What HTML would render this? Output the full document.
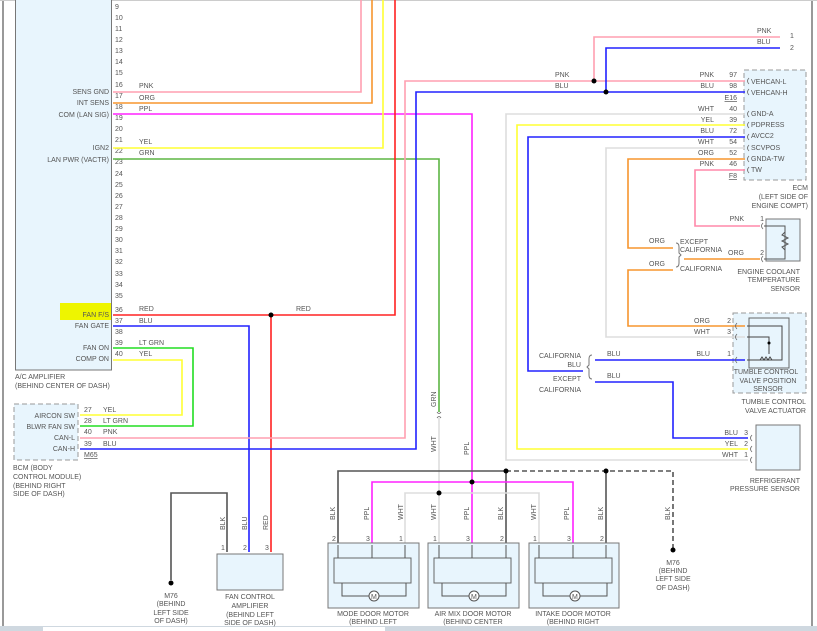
<!DOCTYPE html>
<html><head><meta charset="utf-8"><style>
html,body{margin:0;padding:0;background:#fff;width:817px;height:631px;overflow:hidden}
svg{display:block}
text{font-family:"Liberation Sans",sans-serif;font-size:7px;fill:#555}
</style></head><body>
<svg width="817" height="631" viewBox="0 0 817 631" xmlns="http://www.w3.org/2000/svg">
<line x1="3" y1="0" x2="3" y2="626" stroke="#333" stroke-width="1"/>
<line x1="812" y1="0" x2="812" y2="626" stroke="#333" stroke-width="1"/>
<rect x="0" y="626" width="817" height="5" fill="#cfd8e0"/>
<rect x="43" y="627" width="342" height="4" fill="#fff"/>
<rect x="0" y="0" width="817" height="1" fill="#ccc"/>

<!-- boxes first -->
<rect x="15.5" y="-2" width="96" height="372" fill="#e8f5fd" stroke="#777"/>
<rect x="60" y="303" width="51" height="17" fill="#eef500"/>
<rect x="14" y="404" width="64" height="56" fill="#e8f5fd" stroke="#999" stroke-dasharray="5,3"/>
<rect x="744" y="70" width="62" height="110" fill="#e8f5fd" stroke="#999" stroke-dasharray="5,3"/>
<rect x="766" y="219" width="34" height="42" fill="#e8f5fd" stroke="#777"/>
<rect x="733" y="313" width="73" height="80" fill="#e8f5fd" stroke="#999" stroke-dasharray="5,3"/>
<rect x="756" y="425" width="44" height="45" fill="#e8f5fd" stroke="#777"/>

<g font-size="7">
<text x="115" y="9">9</text><text x="115" y="20">10</text><text x="115" y="31">11</text><text x="115" y="42">12</text><text x="115" y="53">13</text><text x="115" y="64">14</text><text x="115" y="75">15</text><text x="115" y="87">16</text><text x="115" y="98">17</text><text x="115" y="109">18</text><text x="115" y="120">19</text><text x="115" y="131">20</text><text x="115" y="142">21</text><text x="115" y="153">22</text><text x="115" y="164">23</text><text x="115" y="176">24</text><text x="115" y="187">25</text><text x="115" y="198">26</text><text x="115" y="209">27</text><text x="115" y="220">28</text><text x="115" y="231">29</text><text x="115" y="242">30</text><text x="115" y="253">31</text><text x="115" y="264">32</text><text x="115" y="276">33</text><text x="115" y="287">34</text><text x="115" y="298">35</text><text x="115" y="312">36</text><text x="115" y="323">37</text><text x="115" y="334">38</text><text x="115" y="345">39</text><text x="115" y="356">40</text>
</g>
<g text-anchor="end">
<text x="109" y="94">SENS GND</text><text x="109" y="105">INT SENS</text><text x="109" y="117">COM (LAN SIG)</text><text x="109" y="150">IGN2</text><text x="109" y="162">LAN PWR (VACTR)</text><text x="109" y="317">FAN F/S</text><text x="109" y="328">FAN GATE</text><text x="109" y="350">FAN ON</text><text x="109" y="361">COMP ON</text>
</g>
<text x="15" y="379">A/C AMPLIFIER</text><text x="15" y="388">(BEHIND CENTER OF DASH)</text>
<text x="139" y="88">PNK</text><text x="139" y="100">ORG</text><text x="139" y="111">PPL</text><text x="139" y="144">YEL</text><text x="139" y="155">GRN</text><text x="139" y="311">RED</text><text x="296" y="311">RED</text><text x="139" y="323">BLU</text><text x="139" y="345">LT GRN</text><text x="139" y="356">YEL</text>

<g text-anchor="end"><text x="75" y="418">AIRCON SW</text><text x="75" y="429">BLWR FAN SW</text><text x="75" y="440">CAN-L</text><text x="75" y="451">CAN-H</text></g>
<text x="84" y="412">27</text><text x="84" y="423">28</text><text x="84" y="434">40</text><text x="84" y="446">39</text><text x="84" y="457" text-decoration="underline">M65</text>
<text x="103" y="412">YEL</text><text x="103" y="423">LT GRN</text><text x="103" y="434">PNK</text><text x="103" y="446">BLU</text>
<text x="13" y="470">BCM (BODY</text><text x="13" y="479">CONTROL MODULE)</text><text x="13" y="488">(BEHIND RIGHT</text><text x="13" y="496">SIDE OF DASH)</text>

<g fill="none" stroke-width="1.6">
<polyline points="113,92 361,92 361,0" stroke="#ff9fb0"/>
<polyline points="113,103 372,103 372,0" stroke="#f7952e"/>
<polyline points="113,114 472,114 472,543" stroke="#ff22ff"/>
<polyline points="113,148 383,148 383,0" stroke="#ffff33"/>
<polyline points="113,159 439,159 439,412" stroke="#5db544"/>
<polyline points="439,418 439,543" stroke="#ddd"/>
<polyline points="113,315 395,315 395,0" stroke="#f22"/>
<polyline points="271,315 271,552" stroke="#f22"/>
<polyline points="113,326 249,326 249,552" stroke="#22f"/>
<polyline points="113,348 193,348 193,426 80,426" stroke="#2d2"/>
<polyline points="113,360 182,360 182,415 80,415" stroke="#ff3"/>
<polyline points="80,438 405,438 405,81 745,81" stroke="#ff9fb0"/>
<polyline points="594,81 594,37 780,37" stroke="#ff9fb0"/>
<polyline points="80,449 416,449 416,92 745,92" stroke="#22f"/>
<polyline points="606,92 606,48 780,48" stroke="#22f"/>
<polyline points="745,114 506,114 506,460 748,460" stroke="#ddd"/>
<polyline points="745,125 517,125 517,449 748,449" stroke="#ff3"/>
<polyline points="745,137 528,137 528,371 583,371" stroke="#22f"/>
<polyline points="595,360 745,360" stroke="#22f"/>
<polyline points="595,382 673,382 673,438 748,438" stroke="#22f"/>
<polyline points="745,148 606,148 606,337 745,337" stroke="#ddd"/>
<polyline points="745,159 628,159 628,248 673,248" stroke="#f7952e"/>
<polyline points="673,270 628,270 628,326 745,326" stroke="#f7952e"/>
<polyline points="684,259 760,259" stroke="#f7952e"/>
<polyline points="745,170 695,170 695,226 760,226" stroke="#ff88aa"/>
<polyline points="338,543 338,471 506,471" stroke="#555"/>
<polyline points="506,471 673,471 673,548" stroke="#555" stroke-dasharray="5,3"/>
<polyline points="506,471 506,543" stroke="#555"/>
<polyline points="606,471 606,543" stroke="#555"/>
<polyline points="372,543 372,482 573,482 573,543" stroke="#ff22ff"/>
<polyline points="405,543 405,493 539,493 539,543" stroke="#ddd"/>
<polyline points="227,552 227,493 171,493 171,580" stroke="#555"/>
</g>
<g fill="#000">
<circle cx="271" cy="315" r="2.5"/><circle cx="594" cy="81" r="2.5"/><circle cx="606" cy="92" r="2.5"/>
<circle cx="506" cy="471" r="2.5"/><circle cx="606" cy="471" r="2.5"/><circle cx="472" cy="482" r="2.5"/><circle cx="439" cy="493" r="2.5"/>
<circle cx="171" cy="583" r="2.5"/><circle cx="673" cy="550" r="2.5"/>
</g>
<text x="555" y="77">PNK</text><text x="555" y="88">BLU</text>
<text x="757" y="33">PNK</text><text x="757" y="44">BLU</text><text x="790" y="38">1</text><text x="790" y="50">2</text>

<g><text x="751" y="84">VEHCAN-L</text><text x="751" y="95">VEHCAN-H</text><text x="751" y="116">GND-A</text><text x="751" y="127">PDPRESS</text><text x="751" y="138">AVCC2</text><text x="751" y="150">SCVPOS</text><text x="751" y="161">GNDA-TW</text><text x="751" y="172">TW</text></g>
<g text-anchor="end"><text x="737" y="77">97</text><text x="737" y="88">98</text><text x="737" y="100" text-decoration="underline">E16</text><text x="737" y="111">40</text><text x="737" y="122">39</text><text x="737" y="133">72</text><text x="737" y="144">54</text><text x="737" y="155">52</text><text x="737" y="166">46</text><text x="737" y="178" text-decoration="underline">F8</text>
<text x="714" y="77">PNK</text><text x="714" y="88">BLU</text><text x="714" y="111">WHT</text><text x="714" y="122">YEL</text><text x="714" y="133">BLU</text><text x="714" y="144">WHT</text><text x="714" y="155">ORG</text><text x="714" y="166">PNK</text>
<text x="808" y="190">ECM</text><text x="808" y="199">(LEFT SIDE OF</text><text x="808" y="208">ENGINE COMPT)</text>
<text x="744" y="221">PNK</text><text x="764" y="221">1</text><text x="744" y="255">ORG</text><text x="764" y="255">2</text>
<text x="800" y="274">ENGINE COOLANT</text><text x="800" y="282">TEMPERATURE</text><text x="800" y="291">SENSOR</text>
<text x="710" y="323">ORG</text><text x="710" y="334">WHT</text><text x="710" y="356">BLU</text><text x="731" y="323">2</text><text x="731" y="334">3</text><text x="731" y="356">1</text>
<text x="806" y="404">TUMBLE CONTROL</text><text x="806" y="413">VALVE ACTUATOR</text>
<text x="738" y="435">BLU</text><text x="738" y="446">YEL</text><text x="738" y="457">WHT</text><text x="748" y="435">3</text><text x="748" y="446">2</text><text x="748" y="457">1</text>
<text x="800" y="483">REFRIGERANT</text><text x="800" y="491">PRESSURE SENSOR</text>
<text x="665" y="243">ORG</text><text x="665" y="266">ORG</text><text x="581" y="358">CALIFORNIA</text><text x="581" y="367">BLU</text><text x="581" y="381">EXCEPT</text><text x="581" y="392">CALIFORNIA</text>
</g>
<text x="680" y="244">EXCEPT</text><text x="680" y="252">CALIFORNIA</text><text x="680" y="271">CALIFORNIA</text>
<text x="607" y="356">BLU</text><text x="607" y="378">BLU</text>
<path d="M676,243 q3,0 3,4 v6 l2,2 l-2,2 v6 q0,4 -3,4" fill="none" stroke="#777"/>
<path d="M592,355 q-3,0 -3,4 v6 l-2,2 l2,2 v6 q0,4 3,4" fill="none" stroke="#777"/>
<polyline points="764,226 785,226 785,259 764,259" fill="none" stroke="#555"/>
<path d="M785,232 l-3,3 l6,3 l-6,3 l6,3 l-6,3 l3,3" fill="none" stroke="#555"/>
<rect x="749" y="318" width="40" height="50" fill="none" stroke="#666"/>
<polyline points="747,326 782,326 782,360 747,360" fill="none" stroke="#444"/>
<polyline points="747,337 769,337 769,354" fill="none" stroke="#444"/>
<circle cx="769" cy="343" r="1.5" fill="#000"/>
<path d="M760,360 l2,-3 l2,3 l2,-3 l2,3 l2,-3 l2,3" fill="none" stroke="#444"/>
<text x="766" y="374" text-anchor="middle">TUMBLE CONTROL</text><text x="768" y="383" text-anchor="middle">VALVE POSITION</text><text x="768" y="391" text-anchor="middle">SENSOR</text>
<g fill="none" stroke="#666" stroke-width="0.8">
<path d="M749,78 q-3,3 0,6 M749,89 q-3,3 0,6 M749,111 q-3,3 0,6 M749,122 q-3,3 0,6 M749,134 q-3,3 0,6 M749,145 q-3,3 0,6 M749,156 q-3,3 0,6 M749,167 q-3,3 0,6"/>
<path d="M763,223 q-3,3 0,6 M763,256 q-3,3 0,6 M737,323 q-3,3 0,6 M737,334 q-3,3 0,6 M737,357 q-3,3 0,6 M752,435 q-3,3 0,6 M752,446 q-3,3 0,6 M752,457 q-3,3 0,6"/>
<path d="M437,412 q2,3 4,0 M437,418 q2,-3 4,0"/>
</g>
<g>
<text transform="translate(436,407) rotate(-90)">GRN</text>
<text transform="translate(436,452) rotate(-90)">WHT</text>
<text transform="translate(469,455) rotate(-90)">PPL</text>
<text transform="translate(225,530) rotate(-90)">BLK</text>
<text transform="translate(247,530) rotate(-90)">BLU</text>
<text transform="translate(268,530) rotate(-90)">RED</text>
<text transform="translate(335,520) rotate(-90)">BLK</text><text transform="translate(369,520) rotate(-90)">PPL</text><text transform="translate(403,520) rotate(-90)">WHT</text>
<text transform="translate(436,520) rotate(-90)">WHT</text><text transform="translate(469,520) rotate(-90)">PPL</text><text transform="translate(503,520) rotate(-90)">BLK</text>
<text transform="translate(536,520) rotate(-90)">WHT</text><text transform="translate(569,520) rotate(-90)">PPL</text><text transform="translate(603,520) rotate(-90)">BLK</text>
<text transform="translate(670,520) rotate(-90)">BLK</text>
</g>
<rect x="217" y="554" width="66" height="36" fill="#e8f5fd" stroke="#777"/>
<text x="250" y="599" text-anchor="middle">FAN CONTROL</text><text x="250" y="608" text-anchor="middle">AMPLIFIER</text><text x="250" y="617" text-anchor="middle">(BEHIND LEFT</text><text x="250" y="625" text-anchor="middle">SIDE OF DASH)</text>
<text x="171" y="598" text-anchor="middle">M76</text><text x="171" y="606" text-anchor="middle">(BEHIND</text><text x="171" y="615" text-anchor="middle">LEFT SIDE</text><text x="171" y="623" text-anchor="middle">OF DASH)</text>
<text x="673" y="565" text-anchor="middle">M76</text><text x="673" y="573" text-anchor="middle">(BEHIND</text><text x="673" y="581" text-anchor="middle">LEFT SIDE</text><text x="673" y="590" text-anchor="middle">OF DASH)</text>
<g fill="#e8f5fd" stroke="#777">
<rect x="328" y="543" width="91" height="65"/><rect x="428" y="543" width="91" height="65"/><rect x="529" y="543" width="90" height="65"/>
</g>
<g fill="#e8f5fd" stroke="#666">
<rect x="334" y="558" width="77" height="25"/><rect x="434" y="558" width="77" height="25"/><rect x="535" y="558" width="77" height="25"/>
</g>
<g fill="none" stroke="#555">
<polyline points="338,545 338,558"/><polyline points="372,545 372,558"/><polyline points="405,545 405,558"/>
<polyline points="439,545 439,558"/><polyline points="472,545 472,558"/><polyline points="506,545 506,558"/>
<polyline points="539,545 539,558"/><polyline points="573,545 573,558"/><polyline points="606,545 606,558"/>
<polyline points="342,583 342,596 406,596 406,583"/><polyline points="442,583 442,596 506,596 506,583"/><polyline points="543,583 543,596 607,596 607,583"/>
</g>
<g fill="#fff" stroke="#555">
<circle cx="374" cy="596" r="5"/><circle cx="474" cy="596" r="5"/><circle cx="575" cy="596" r="5"/>
</g>
<text x="371" y="599">M</text><text x="471" y="599">M</text><text x="572" y="599">M</text>
<text x="373" y="616" text-anchor="middle">MODE DOOR MOTOR</text><text x="373" y="624" text-anchor="middle">(BEHIND LEFT</text>
<text x="473" y="616" text-anchor="middle">AIR MIX DOOR MOTOR</text><text x="473" y="624" text-anchor="middle">(BEHIND CENTER</text>
<text x="573" y="616" text-anchor="middle">INTAKE DOOR MOTOR</text><text x="573" y="624" text-anchor="middle">(BEHIND RIGHT</text>
<g font-size="6">
<text x="332" y="541">2</text><text x="366" y="541">3</text><text x="399" y="541">1</text>
<text x="433" y="541">1</text><text x="466" y="541">3</text><text x="500" y="541">2</text>
<text x="533" y="541">1</text><text x="567" y="541">3</text><text x="600" y="541">2</text>
<text x="221" y="550">1</text><text x="243" y="550">2</text><text x="265" y="550">3</text>
</g>
</svg>
</body></html>
